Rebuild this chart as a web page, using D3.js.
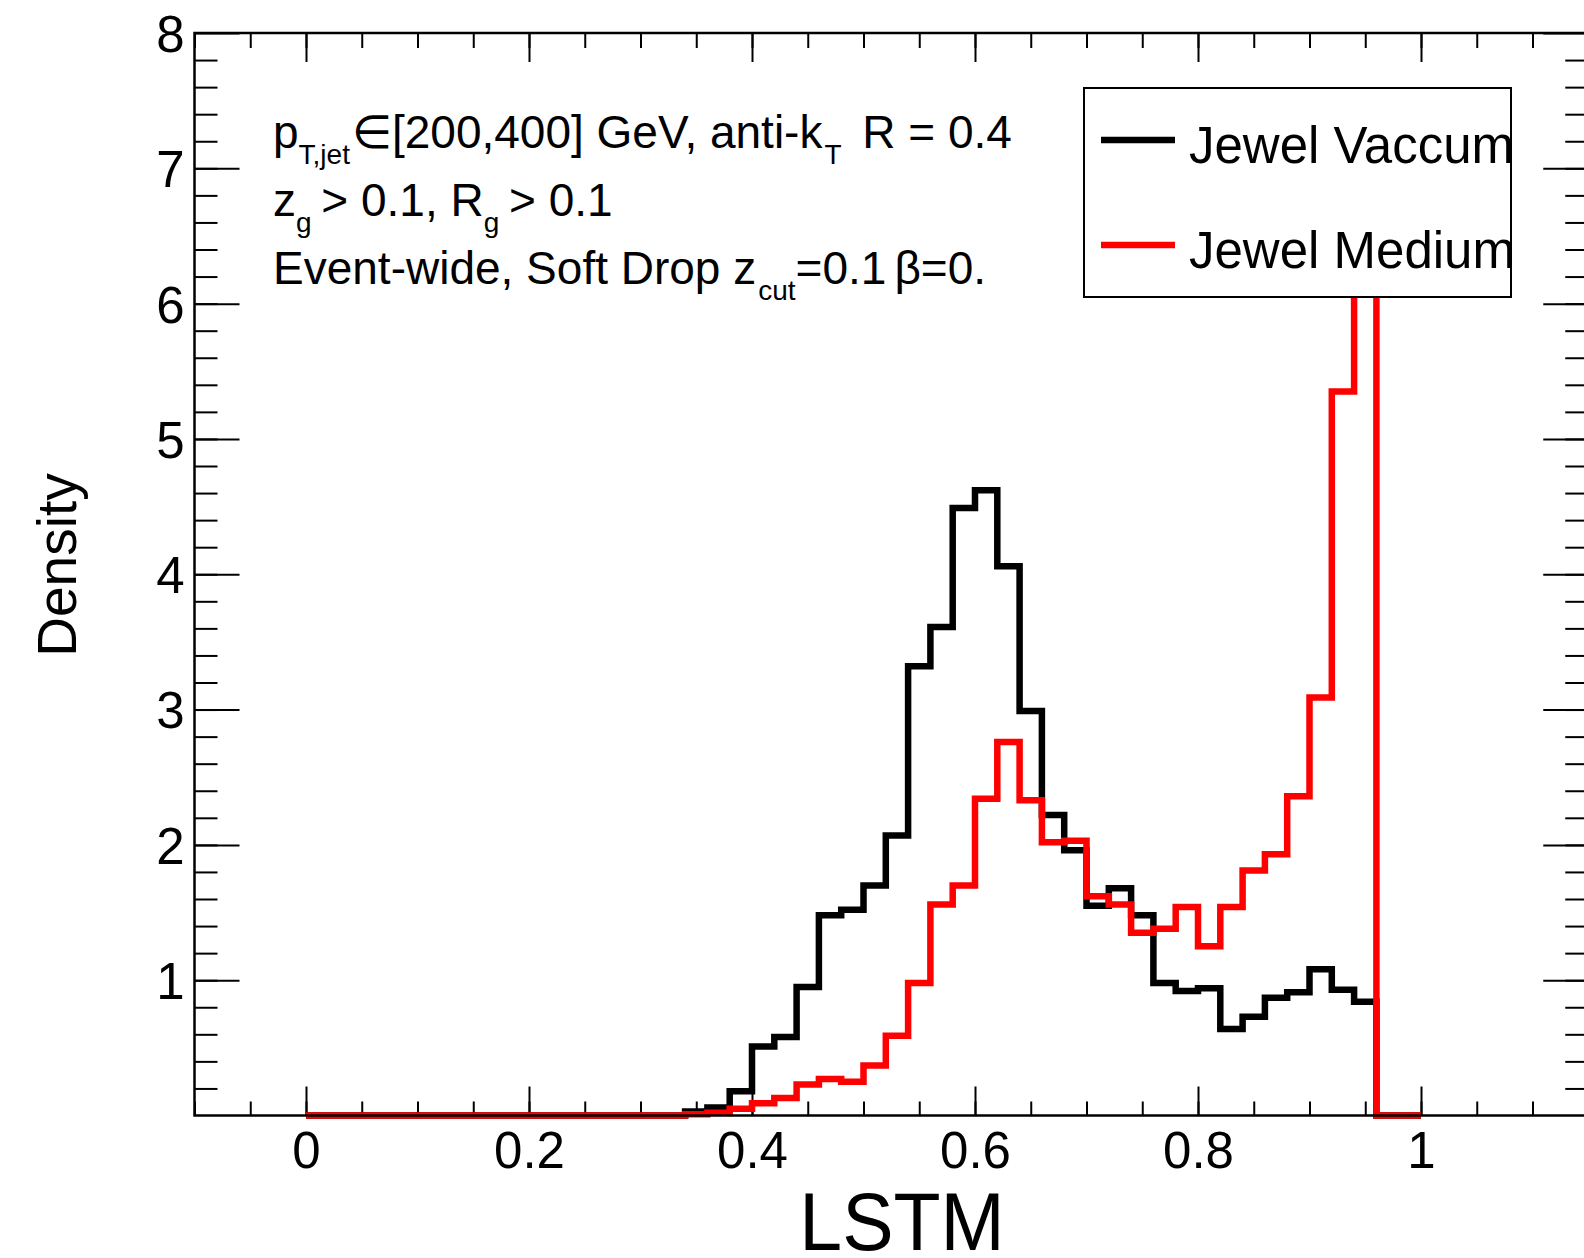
<!DOCTYPE html>
<html>
<head>
<meta charset="utf-8">
<script src="https://cdn.jsdelivr.net/npm/d3@7"></script>
<style>
  html, body { margin: 0; padding: 0; background: #fff; }
  svg { display: block; }
  text { font-family: "Liberation Sans", Arial, Helvetica, sans-serif; fill: #000; }
</style>
</head>
<body>
<svg id="chart" width="1584" height="1258"></svg>
<script>
// LSTM output distributions, 50 bins of width 0.02 on [0, 1]
const binEdges = d3.range(0, 51).map(i => i / 50);

const vacuum = [
  0, 0, 0, 0, 0, 0, 0, 0, 0, 0,
  0, 0, 0, 0, 0, 0, 0, 0.03, 0.06, 0.18,
  0.51, 0.58, 0.95, 1.48, 1.52, 1.70, 2.07, 3.32, 3.61, 4.49,
  4.62, 4.06, 2.99, 2.22, 1.96, 1.55, 1.68, 1.48, 0.98, 0.92,
  0.94, 0.64, 0.73, 0.87, 0.91, 1.08, 0.93, 0.84, 0, 0
];

const medium = [
  0, 0, 0, 0, 0, 0, 0, 0, 0, 0,
  0, 0, 0, 0, 0, 0, 0, 0.01, 0.02, 0.05,
  0.09, 0.13, 0.23, 0.27, 0.25, 0.37, 0.59, 0.98, 1.56, 1.70,
  2.34, 2.76, 2.33, 2.02, 2.03, 1.62, 1.56, 1.35, 1.38, 1.54,
  1.25, 1.54, 1.81, 1.93, 2.36, 3.09, 5.35, 6.90, 0, 0
];

const seriesNames = ["Jewel Vaccum", "Jewel Medium"];
const seriesColors = ["#000000", "#ff0000"];

const xMajorTicks = [0, 0.2, 0.4, 0.6, 0.8, 1.0];
const xTickLabels = ["0", "0.2", "0.4", "0.6", "0.8", "1"];
const xMinorTicks = d3.range(-2, 24).map(i => i * 0.05);
const yMajorTicks = [1, 2, 3, 4, 5, 6, 7, 8];
const yTickLabels = ["1", "2", "3", "4", "5", "6", "7", "8"];
const yMinorTicks = d3.range(1, 40).map(i => i * 0.2);

const svg = d3.select("#chart");

const frame = { left: 194.5, right: 1588.25, top: 33, bottom: 1115.5 };
const x = d3.scaleLinear().domain([-0.1, 1.15]).range([frame.left, frame.right]);
const y = d3.scaleLinear().domain([0, 8]).range([frame.bottom, frame.top]);

const MAJ_Y = 45, MIN_Y = 23, MAJ_X = 29, MIN_X = 14;
const tickFont = 51;

function styleAxis(g) {
  g.select(".domain").remove();
  g.selectAll(".tick line").attr("stroke", "#000").attr("stroke-width", 2);
}

// bottom axis
svg.append("g").attr("transform", `translate(0,${frame.bottom})`)
  .call(d3.axisBottom(x).tickValues(xMinorTicks).tickSize(-MIN_X).tickFormat(""))
  .call(styleAxis);
const xb = svg.append("g").attr("transform", `translate(0,${frame.bottom})`)
  .call(d3.axisBottom(x).tickValues(xMajorTicks).tickSize(-MAJ_X)
        .tickFormat((d, i) => xTickLabels[i]).tickPadding(16))
  .call(styleAxis);
xb.selectAll(".tick text").attr("font-size", tickFont).attr("dy", "0.71em")
  .style("font-family", "\"Liberation Sans\", Arial, sans-serif").attr("fill", "#000");

// top axis
svg.append("g").attr("transform", `translate(0,${frame.top})`)
  .call(d3.axisTop(x).tickValues(xMinorTicks).tickSize(-15).tickFormat(""))
  .call(styleAxis);
svg.append("g").attr("transform", `translate(0,${frame.top})`)
  .call(d3.axisTop(x).tickValues(xMajorTicks).tickSize(-MAJ_X).tickFormat(""))
  .call(styleAxis);

// left axis
svg.append("g").attr("transform", `translate(${frame.left},0)`)
  .call(d3.axisLeft(y).tickValues(yMinorTicks).tickSize(-MIN_Y).tickFormat(""))
  .call(styleAxis);
const yl = svg.append("g").attr("transform", `translate(${frame.left},0)`)
  .call(d3.axisLeft(y).tickValues(yMajorTicks).tickSize(-MAJ_Y)
        .tickFormat((d, i) => yTickLabels[i]).tickPadding(10))
  .call(styleAxis);
yl.selectAll(".tick text").attr("font-size", tickFont).attr("dy", "0.36em")
  .style("font-family", "\"Liberation Sans\", Arial, sans-serif").attr("fill", "#000");

// right axis
svg.append("g").attr("transform", `translate(${frame.right},0)`)
  .call(d3.axisRight(y).tickValues(yMinorTicks).tickSize(-MIN_Y).tickFormat(""))
  .call(styleAxis);
svg.append("g").attr("transform", `translate(${frame.right},0)`)
  .call(d3.axisRight(y).tickValues(yMajorTicks).tickSize(-MAJ_Y).tickFormat(""))
  .call(styleAxis);

// histograms (step outlines)
const stepLine = d3.line().x(d => x(d[0])).y(d => y(d[1])).curve(d3.curveStepAfter);
[vacuum, medium].forEach((vals, k) => {
  const pts = vals.map((v, i) => [binEdges[i], v]);
  pts.push([binEdges[binEdges.length - 1], vals[vals.length - 1]]);
  svg.append("path").datum(pts)
    .attr("d", stepLine)
    .attr("fill", "none")
    .attr("stroke", seriesColors[k])
    .attr("stroke-width", 6.5)
    .attr("stroke-linejoin", "miter")
    .attr("stroke-linecap", "butt");
});

// frame
svg.append("rect")
  .attr("x", frame.left).attr("y", frame.top)
  .attr("width", frame.right - frame.left).attr("height", frame.bottom - frame.top)
  .attr("fill", "none").attr("stroke", "#000").attr("stroke-width", 2.5);

// legend
const leg = svg.append("g");
leg.append("rect").attr("x", 1084).attr("y", 88).attr("width", 427).attr("height", 209)
  .attr("fill", "#fff").attr("stroke", "#000").attr("stroke-width", 2);
const legRows = [140, 245];
seriesNames.forEach((name, k) => {
  leg.append("line").attr("x1", 1101).attr("x2", 1175)
    .attr("y1", legRows[k]).attr("y2", legRows[k])
    .attr("stroke", seriesColors[k]).attr("stroke-width", 6.5);
  leg.append("text").attr("x", 1189).attr("y", legRows[k] + 23)
    .attr("font-size", 51).text(name);
});

// annotation block with subscripts
const annoFont = 46, subFont = 28, subShift = 16;
function richLine(yb, parts) {
  const t = svg.append("text").attr("x", 273).attr("y", yb).attr("font-size", annoFont);
  let shifted = false;
  parts.forEach(p => {
    const ts = t.append("tspan").text(p.t);
    if (p.dx) ts.attr("dx", p.dx);
    if (p.sub) {
      ts.attr("font-size", subFont).attr("dy", shifted ? 0 : subShift);
      shifted = true;
    } else {
      if (shifted) ts.attr("dy", -subShift);
      shifted = false;
    }
  });
}
richLine(148, [{t: "p"}, {t: "T,jet", sub: true}, {t: "\u2208[200,400] GeV, anti-k", dx: 2}, {t: "T", sub: true, dx: 2}, {t: " R = 0.4", dx: 8}]);
richLine(216, [{t: "z"}, {t: "g", sub: true}, {t: " > 0.1, R", dx: -3}, {t: "g", sub: true}, {t: " > 0.1", dx: -3}]);
richLine(284, [{t: "Event-wide, Soft Drop z"}, {t: "cut", sub: true, dx: 2}, {t: "=0.1"}, {t: "\u03B2=0.", dx: 8}]);

// axis titles
svg.append("text").attr("text-anchor", "middle")
  .attr("transform", "translate(902,1250) scale(1,1.05)")
  .attr("font-size", 77).text("LSTM");
svg.append("text").attr("transform", "translate(76,565) rotate(-90)")
  .attr("text-anchor", "middle").attr("font-size", 55).text("Density");
</script>
</body>
</html>
